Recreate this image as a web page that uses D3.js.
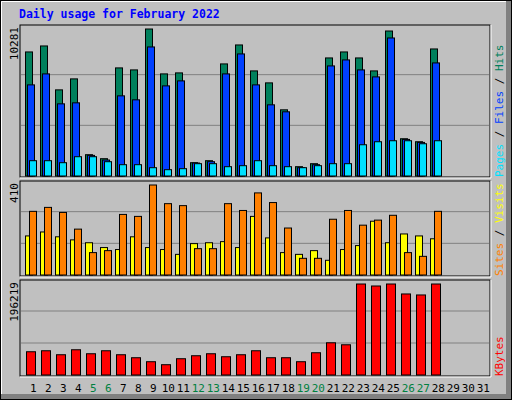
<!DOCTYPE html>
<html><head><meta charset="utf-8">
<script src="https://cdn.jsdelivr.net/npm/d3@7"></script>
<style>body{margin:0;background:#fff}svg{display:block}</style>
</head><body>
<script>
const days = d3.range(1, 32);
const weekend = [5,6,12,13,19,20,26,27];
const hits  = [8676,9095,6024,6792,1489,1210,7560,7420,10281,7141,7211,930,1070,7839,9165,7350,6513,4629,651,861,8257,8676,8257,7350,10141,2605,2396,8885];
const files = [6373,7141,5047,5117,1442,1117,5606,5327,9025,6303,6652,907,1000,7141,8537,6373,4978,4489,581,791,7699,8118,7420,6931,9653,2559,2349,7908];
const pages = [1070,1070,930,1349,1349,1000,791,791,581,442,512,861,861,651,721,1070,721,651,581,721,861,861,2186,2396,2466,2466,2256,2466];
const visits= [178,196,174,160,147,125,116,174,125,116,94,143,147,152,125,267,169,102,94,111,67,116,134,245,147,187,178,165];
const sites = [290,308,285,209,102,111,276,267,410,325,316,120,120,325,294,374,330,214,76,76,254,294,227,250,272,102,85,290];
const kbytes= [50129,52277,43683,54426,45832,52277,43683,37239,28645,22200,35090,41535,45832,39387,43683,52277,37239,37239,28645,47981,69465,65168,196219,191922,196219,174735,172587,196219];

const W=512,H=400;
const svg=d3.select("body").append("svg").attr("width",W).attr("height",H);
svg.append("rect").attr("width",W).attr("height",H).attr("fill","#C0C0C0");
// bevel
svg.append("rect").attr("x",0.5).attr("y",0.5).attr("width",W-1).attr("height",H-1).attr("fill","none").attr("stroke","#000");
svg.append("path").attr("d",`M1.5,${H-2}V1.5H${W-2}`).attr("stroke","#fff").attr("fill","none");
svg.append("rect").attr("x",W-6).attr("y",1).attr("width",5).attr("height",H-2).attr("fill","#808080");
svg.append("rect").attr("x",1).attr("y",H-6).attr("width",W-2).attr("height",5).attr("fill","#808080");

svg.append("text").attr("x",19).attr("y",18).attr("fill","#0000ff").attr("font-family","DejaVu Sans Mono")
  .attr("font-size",11.5).attr("font-weight","bold").text("Daily usage for February 2022");

const x=d3.scaleBand().domain(days).range([20,485]).paddingInner(0);
const PX0=20, PX1=490;
const font="DejaVu Sans Mono";

function panel(y0,y1,max,labelTxt,legend){
  svg.append("rect").attr("x",PX0).attr("y",y0).attr("width",PX1-PX0).attr("height",y1-y0).attr("fill","#C0C0C0").attr("stroke","#000");
  svg.append("path").attr("d",`M${PX0},${y1+1}H${PX1+1}V${y0}`).attr("stroke","#fff").attr("fill","none");
  const h=y1-y0;
  [1,2].forEach(i=>{
    svg.append("line").attr("x1",PX0+1).attr("x2",PX1-1).attr("y1",y1-1-i*h/3).attr("y2",y1-1-i*h/3).attr("stroke","#808080");
  });
  svg.append("text").attr("transform",`translate(18,${y0+2}) rotate(-90)`).attr("text-anchor","end")
    .attr("font-family",font).attr("font-size",11).attr("fill","#000").text(labelTxt);
  const t=svg.append("text").attr("transform",`translate(503,${y1}) rotate(-90)`).attr("font-family",font).attr("font-size",11);
  legend.forEach(([s,c])=>t.append("tspan").attr("fill",c).text(s));
  return d3.scaleLinear().domain([0,max]).range([y1-1,y0+4]);
}
function bars(data,y,off,w,color){
  svg.append("g").selectAll("rect").data(data).join("rect")
    .attr("x",(d,i)=>x(i+1)+off+5).attr("width",w)
    .attr("y",d=>y(d)).attr("height",d=>y(0)-y(d))
    .attr("fill",color).attr("stroke","#000").attr("stroke-width",1);
}
const y1=panel(25,177,10281,"10281",[["Pages","#00e0ff"],[" / ","#000"],["Files","#0040ff"],[" / ","#000"],["Hits","#00805c"]]);
bars(hits,y1,0.5,7,"#00805c");
bars(files,y1,2.5,7,"#0040ff");
bars(pages,y1,4.5,7,"#00e0ff");
const y2=panel(181,276,410,"410",[["Sites","#ff8000"],[" / ","#000"],["Visits","#ffff00"]]);
bars(visits,y2,0.5,7,"#ffff00");
bars(sites,y2,4.5,7,"#ff8000");
const y3=panel(280,376,196219,"196219",[["KBytes","#ff0000"]]);
bars(kbytes,y3,1.5,9,"#ff0000");

svg.append("g").selectAll("text").data(days).join("text")
  .attr("x",d=>x(d)+13.3).attr("y",392).attr("text-anchor","middle")
  .attr("font-family",font).attr("font-size",11)
  .attr("fill",d=>weekend.includes(d)?"#008040":"#000").text(d=>d);
</script>
</body></html>
